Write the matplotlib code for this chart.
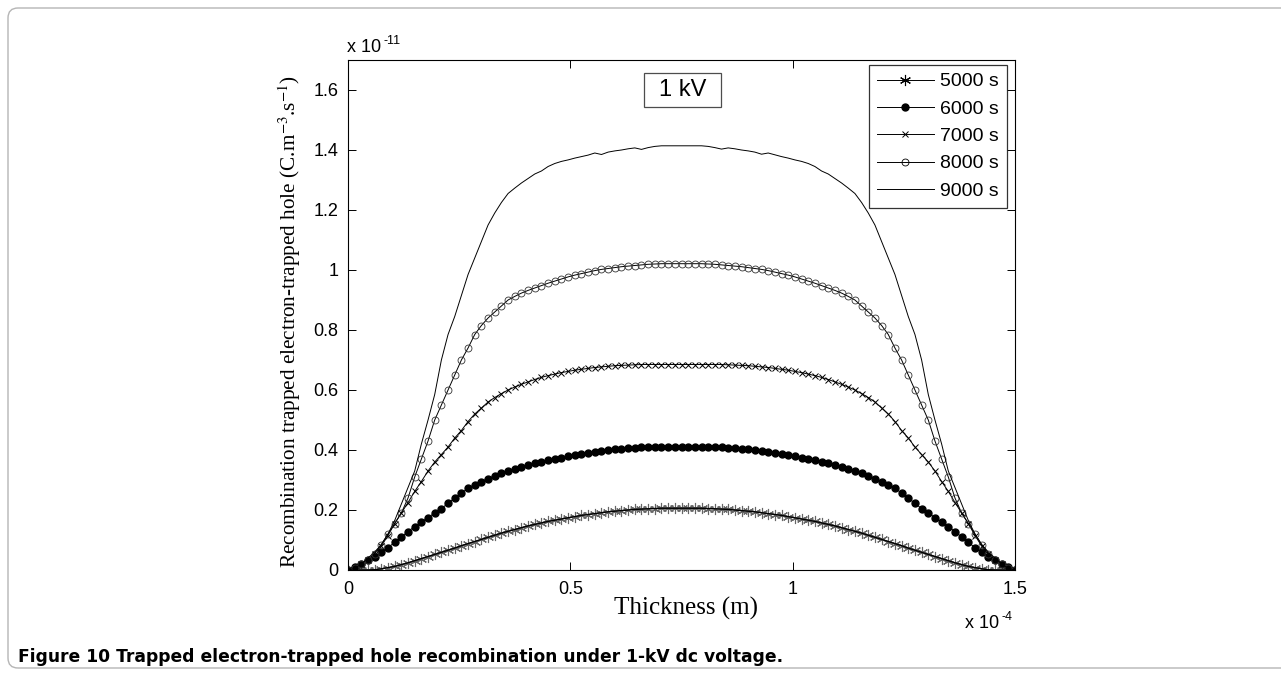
import numpy as np
import matplotlib
matplotlib.use('Agg')
import matplotlib.pyplot as plt
from matplotlib.patches import FancyBboxPatch, Rectangle
from matplotlib.transforms import IdentityTransform

plt.rcParams['font.family'] = ['Liberation Sans', 'DejaVu Sans']
plt.rcParams['mathtext.fontset'] = 'stix'

# thickness grid, in units of 1e-4 m
厚度 = np.linspace(0, 1.5, 101)

# recombination rate, in units of 1e-11 C.m^-3.s^-1
复合_5000 = [0, 0, 0, 0, 0.001, 0.004, 0.008, 0.012, 0.018, 0.024, 0.031,
           0.038, 0.045, 0.052, 0.059, 0.066, 0.073, 0.081, 0.088, 0.095, 0.102,
           0.109, 0.116, 0.123, 0.129, 0.135, 0.141, 0.147, 0.152, 0.157, 0.162,
           0.166, 0.17, 0.174, 0.178, 0.182, 0.185, 0.188, 0.191, 0.194, 0.196,
           0.198, 0.2, 0.202, 0.203, 0.204, 0.205, 0.206, 0.206, 0.206, 0.206,
           0.206, 0.206, 0.206, 0.205, 0.204, 0.203, 0.202, 0.2, 0.198, 0.196,
           0.194, 0.191, 0.188, 0.185, 0.182, 0.178, 0.174, 0.17, 0.166, 0.162,
           0.157, 0.152, 0.147, 0.141, 0.135, 0.129, 0.123, 0.116, 0.109, 0.102,
           0.095, 0.088, 0.081, 0.073, 0.066, 0.059, 0.052, 0.045, 0.038, 0.031,
           0.024, 0.018, 0.012, 0.008, 0.004, 0.001, 0, 0, 0, 0]
复合_6000 = [0, 0.01, 0.02, 0.032, 0.045, 0.06, 0.075, 0.092, 0.11, 0.128, 0.145,
           0.16, 0.175, 0.19, 0.205, 0.222, 0.24, 0.257, 0.272, 0.285, 0.295,
           0.305, 0.314, 0.322, 0.33, 0.337, 0.344, 0.35, 0.356, 0.361, 0.366,
           0.371, 0.375, 0.379, 0.383, 0.387, 0.391, 0.395, 0.398, 0.401, 0.403,
           0.405, 0.407, 0.408, 0.409, 0.41, 0.41, 0.41, 0.41, 0.41, 0.41,
           0.41, 0.41, 0.41, 0.41, 0.41, 0.409, 0.408, 0.407, 0.405, 0.403,
           0.401, 0.398, 0.395, 0.391, 0.387, 0.383, 0.379, 0.375, 0.371, 0.366,
           0.361, 0.356, 0.35, 0.344, 0.337, 0.33, 0.322, 0.314, 0.305, 0.295,
           0.285, 0.272, 0.257, 0.24, 0.222, 0.205, 0.19, 0.175, 0.16, 0.145,
           0.128, 0.11, 0.092, 0.075, 0.06, 0.045, 0.032, 0.02, 0.01, 0]
复合_7000 = [0, 0.008, 0.02, 0.035, 0.055, 0.08, 0.115, 0.155, 0.19, 0.225, 0.262,
           0.295, 0.33, 0.36, 0.385, 0.41, 0.44, 0.465, 0.495, 0.52, 0.54,
           0.56, 0.575, 0.588, 0.60, 0.61, 0.619, 0.627, 0.635, 0.642, 0.648,
           0.653, 0.658, 0.662, 0.666, 0.669, 0.672, 0.675, 0.677, 0.679, 0.681,
           0.682, 0.683, 0.684, 0.685, 0.685, 0.685, 0.685, 0.685, 0.685, 0.685,
           0.685, 0.685, 0.685, 0.685, 0.685, 0.685, 0.684, 0.683, 0.682, 0.681,
           0.679, 0.677, 0.675, 0.672, 0.669, 0.666, 0.662, 0.658, 0.653, 0.648,
           0.642, 0.635, 0.627, 0.619, 0.61, 0.60, 0.588, 0.575, 0.56, 0.54,
           0.52, 0.495, 0.465, 0.44, 0.41, 0.385, 0.36, 0.33, 0.295, 0.262,
           0.225, 0.19, 0.155, 0.115, 0.08, 0.055, 0.035, 0.02, 0.008, 0]
复合_8000 = [0, 0.008, 0.02, 0.035, 0.055, 0.085, 0.12, 0.155, 0.19, 0.24, 0.31,
           0.37, 0.43, 0.50, 0.55, 0.60, 0.65, 0.70, 0.74, 0.785, 0.815,
           0.84, 0.86, 0.88, 0.90, 0.912, 0.923, 0.932, 0.94, 0.948, 0.956,
           0.963, 0.97, 0.977, 0.983, 0.988, 0.993, 0.998, 1.002, 1.005, 1.008,
           1.011, 1.013, 1.015, 1.017, 1.019, 1.02, 1.021, 1.021, 1.021, 1.021,
           1.021, 1.021, 1.021, 1.02, 1.019, 1.017, 1.015, 1.013, 1.011, 1.008,
           1.005, 1.002, 0.998, 0.993, 0.988, 0.983, 0.977, 0.97, 0.963, 0.956,
           0.948, 0.94, 0.932, 0.923, 0.912, 0.90, 0.88, 0.86, 0.84, 0.815,
           0.785, 0.74, 0.70, 0.65, 0.60, 0.55, 0.50, 0.43, 0.37, 0.31,
           0.24, 0.19, 0.155, 0.12, 0.085, 0.055, 0.035, 0.02, 0.008, 0]
复合_9000 = [0, 0.005, 0.02, 0.04, 0.06, 0.085, 0.12, 0.165, 0.22, 0.275, 0.33,
           0.42, 0.50, 0.585, 0.70, 0.785, 0.845, 0.915, 0.985, 1.04, 1.095,
           1.15, 1.19, 1.225, 1.255, 1.273, 1.29, 1.305, 1.32, 1.33, 1.345,
           1.355, 1.362, 1.367, 1.373, 1.378, 1.383, 1.39, 1.385, 1.393, 1.397,
           1.40, 1.404, 1.407, 1.402, 1.408, 1.412, 1.414, 1.414, 1.414, 1.414,
           1.414, 1.414, 1.414, 1.412, 1.408, 1.403, 1.407, 1.404, 1.40, 1.397,
           1.393, 1.386, 1.39, 1.384, 1.378, 1.373, 1.367, 1.362, 1.355, 1.345,
           1.33, 1.32, 1.305, 1.29, 1.273, 1.255, 1.225, 1.19, 1.15, 1.095,
           1.04, 0.985, 0.915, 0.845, 0.785, 0.70, 0.585, 0.50, 0.42, 0.33,
           0.275, 0.22, 0.165, 0.12, 0.085, 0.06, 0.04, 0.02, 0.005, 0]

图例 = ['5000 s', '6000 s', '7000 s', '8000 s', '9000 s']
x刻度 = [0, 0.5, 1, 1.5]
x刻度标签 = ['0', '0.5', '1', '1.5']
y刻度 = [0, 0.2, 0.4, 0.6, 0.8, 1.0, 1.2, 1.4, 1.6]
y刻度标签 = ['0', '0.2', '0.4', '0.6', '0.8', '1', '1.2', '1.4', '1.6']

W, H = 1281, 675
fig = plt.figure(figsize=(W / 100, H / 100), dpi=100)

# outer frame of the figure panel
框 = FancyBboxPatch((8, 7), 1400, 660, boxstyle='round,pad=0,rounding_size=10',
                   transform=IdentityTransform(), facecolor='none',
                   edgecolor='#b5b5b5', linewidth=1.0)
fig.patches.append(框)

ax = fig.add_axes([348 / W, 105 / H, 667 / W, 510 / H])
线宽 = 0.7
ax.plot(厚度, 复合_5000, color='black', lw=线宽, marker=(6, 2, 0), ms=8,
        mec='0.4', mew=0.8, label=图例[0])
# the 5000 s line shows dark over its grey asterisks
ax.plot(厚度, 复合_5000, color='black', lw=1.0)
ax.plot(厚度, 复合_6000, color='black', lw=线宽, marker='o', ms=5,
        mfc='black', mec='black', label=图例[1])
ax.plot(厚度, 复合_7000, color='black', lw=线宽, marker='x', ms=5,
        mew=0.7, label=图例[2])
ax.plot(厚度, 复合_8000, color='black', lw=线宽, marker='o', ms=5,
        mfc='none', mec='0.2', mew=0.6, label=图例[3])
ax.plot(厚度, 复合_9000, color='black', lw=线宽, label=图例[4])

ax.set_xlim(0, 1.5)
ax.set_ylim(0, 1.7)
ax.set_xticks(x刻度)
ax.set_xticklabels(x刻度标签)
ax.set_yticks(y刻度)
ax.set_yticklabels(y刻度标签)
ax.tick_params(direction='in', length=5.5, width=0.7, labelsize=13,
               top=True, right=True, colors='black')
ax.tick_params(axis='x', pad=8)
ax.tick_params(axis='y', pad=7)
for s in ax.spines.values():
    s.set_linewidth(0.8)

leg = ax.legend(loc='upper right', bbox_to_anchor=(0.988, 0.99),
                borderaxespad=0, fontsize=14, frameon=True, fancybox=False,
                handlelength=2.9, handletextpad=0.35, labelspacing=0.5,
                borderpad=0.4)
leg.get_frame().set_edgecolor('black')
leg.get_frame().set_linewidth(0.9)
for h in leg.legend_handles:
    h.set_markeredgecolor('black')

# "1 kV" label box
ax.add_patch(Rectangle((0.4438, 0.9078), 0.1154, 0.0667, transform=ax.transAxes,
                       facecolor='white', edgecolor='0.3', linewidth=0.9, zorder=4))
ax.text(0.5015, 0.941, '1 kV', transform=ax.transAxes, fontsize=17,
        ha='center', va='center', zorder=5)

# MATLAB-style exponent labels
fig.text(347 / W, 1 - 52 / H, 'x 10', fontsize=13, ha='left', va='baseline')
fig.text(383 / W, 1 - 44 / H, '-11', fontsize=9, ha='left', va='baseline')
fig.text(965 / W, 1 - 628 / H, 'x 10', fontsize=13, ha='left', va='baseline')
fig.text(1001 / W, 1 - 620 / H, '-4', fontsize=9, ha='left', va='baseline')

fig.text(686 / W, 1 - 608 / H, 'Thickness (m)', fontsize=18,
         family='Liberation Serif', ha='center', va='center')
fig.text(290 / W, 1 - 321 / H,
         r'Recombination trapped electron-trapped hole (C.m$^{-3}$.s$^{-1}$)',
         fontsize=15.3, family='Liberation Serif', rotation=90,
         ha='center', va='center')

fig.text(18 / W, 1 - 657 / H,
         'Figure 10 Trapped electron-trapped hole recombination under 1-kV dc voltage.',
         fontsize=12.3, weight='bold', family='DejaVu Sans',
         ha='left', va='center')

fig.savefig('out.png', dpi=100)
